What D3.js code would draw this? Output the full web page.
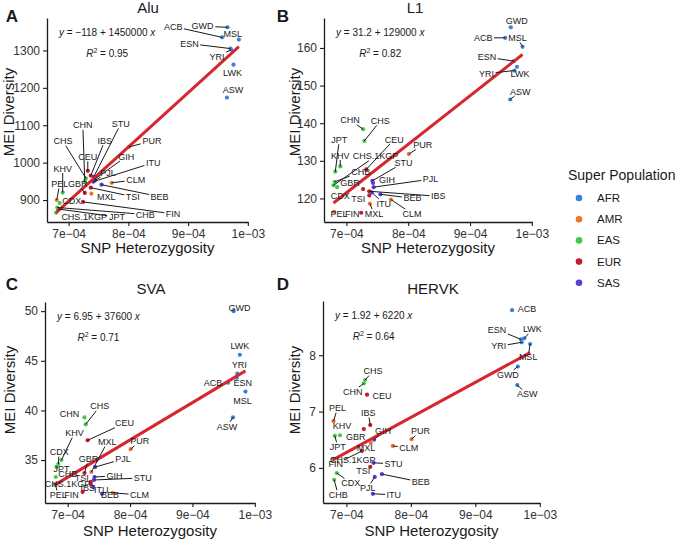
<!DOCTYPE html>
<html><head><meta charset="utf-8">
<script src="https://cdn.jsdelivr.net/npm/d3@7"></script>
<style>
body{margin:0;background:#fff}
svg{display:block}
text{font-family:"Liberation Sans",Arial,Helvetica,sans-serif}
</style>
</head><body>
<svg id="chart" width="682" height="544"></svg>
<script>
// ---------------- DATA ----------------
const populations = ["ACB","ASW","ESN","GWD","LWK","MSL","YRI",
  "CLM","MXL","PEL","PUR",
  "CDX","CHB","CHN","CHS","CHS.1KGP","JPT","KHV",
  "CEU","FIN","GBR","IBS","TSI",
  "BEB","GIH","ITU","PJL","STU"];
const superPopulation = ["AFR","AFR","AFR","AFR","AFR","AFR","AFR",
  "AMR","AMR","AMR","AMR",
  "EAS","EAS","EAS","EAS","EAS","EAS","EAS",
  "EUR","EUR","EUR","EUR","EUR",
  "SAS","SAS","SAS","SAS","SAS"];
const snpHeterozygosity = [9.57e-4,9.65e-4,9.71e-4,9.66e-4,9.76e-4,9.85e-4,9.72e-4,
  7.72e-4,7.38e-4,6.80e-4,8.01e-4,
  6.85e-4,6.81e-4,7.27e-4,7.29e-4,6.79e-4,6.82e-4,6.90e-4,
  7.32e-4,7.24e-4,7.27e-4,7.37e-4,7.37e-4,
  7.55e-4,7.43e-4,7.41e-4,7.44e-4,7.42e-4];
const aluDiversity = [1335,1174,1305,1362,1262,1329,1302,
  946,917,900,1042,
  892,880,950,958,866,876,920,
  978,895,919,965,933,
  941,955,949,952,962];
const l1Diversity = [162.7,146.3,156.5,165.5,155.0,160.3,154.0,
  119.7,118.6,116.4,131.8,
  123.0,124.4,138.4,135.3,123.5,127.1,128.5,
  127.7,116.2,122.5,121.9,120.8,
  121.1,124.1,121.6,123.0,124.7];
const svaDiversity = [42.8,39.3,43.3,50.0,45.6,41.9,43.7,
  31.7,33.8,32.6,36.1,
  34.6,33.3,39.3,38.6,32.5,34.3,35.0,
  37.0,31.8,33.7,32.6,32.8,
  31.6,33.3,32.3,34.3,33.0];
const hervkDiversity = [8.80,7.47,8.28,7.80,8.30,8.20,8.23,
  6.39,6.44,6.83,6.51,
  5.91,5.79,7.50,7.56,6.16,6.57,6.58,
  7.30,6.30,6.69,6.76,6.02,
  5.89,6.50,5.54,5.84,6.09];

const meiTypes = ["Alu","L1","SVA","HERVK"];
const panelLetters = ["A","B","C","D"];
const intercepts = [-118, 31.2, 6.95, 1.92];
const slopes = [1450000, 129000, 37600, 6220];
const interceptText = ["\u2212118","31.2","6.95","1.92"];
const slopeText = ["1450000","129000","37600","6220"];
const r2Text = ["0.95","0.82","0.71","0.64"];

const xTicks = [7e-4, 8e-4, 9e-4, 1e-3];
const xTickLabels = ["7e\u221204","8e\u221204","9e\u221204","1e\u221203"];
const aluTicks = [900,1000,1100,1200,1300];
const l1Ticks = [120,130,140,150,160];
const svaTicks = [35,40,45,50];
const hervkTicks = [6,7,8];

const superPopulations = ["AFR","AMR","EAS","EUR","SAS"];
const superPopColors = ["#3B81D6","#F0722F","#45C84C","#C51B2B","#5A3DDA"];

// label offsets (pixels from point to label centre) -- layout only
const labelOffsetsAlu = [[-49,-11],[6,-8],[-41,-5],[-25,-1],[-1,8],[-6,-6],[-14,7],
  [24,-3],[15,3],[3,-16],[23,-6],
  [12,-2],[88,7],[-2,-56],[-23,-37],[28,4],[59,8],[0,-24],
  [0,-14],[90,12],[-7,-9],[14,-35],[42,9],
  [58,12],[32,-23],[60,-19],[13,-8],[27,-53]];
const labelOffsetsL1 = [[-22,0],[10,-8],[-27,-4],[6,-6],[3,7],[-5,-9],[-28,3],
  [21,14],[4,10],[5,2],[14,-9],
  [3,9],[26,-10],[-13,-9],[16,-20],[42,-29],[4,-32],[0,-11],
  [28,-30],[-9,1],[-13,-6],[69,5],[-11,3],
  [32,4],[14,-3],[12,11],[57,-8],[31,-18]];
const labelOffsetsSVA = [[-15,0],[-6,9],[6,5],[6,-3],[0,-9],[-3,9],[2,-9],
  [27,2],[16,-30],[3,11],[9,-8],
  [1,-12],[12,-3],[-15,-4],[14,-18],[13,-1],[5,2],[13,-27],
  [37,-17],[-11,3],[4,-14],[-3,4],[-9,-4],
  [8,1],[20,-1],[8,3],[28,-8],[49,-2]];
const labelOffsetsHERVK = [[15,-1],[10,9],[-24,-10],[-10,8],[8,-9],[-2,13],[-23,4],
  [16,2],[-5,5],[4,-13],[9,-8],
  [14,10],[4,15],[-11,8],[8,-9],[20,1],[3,11],[2,-9],
  [15,1],[-26,13],[-8,8],[-2,-12],[-7,4],
  [39,8],[9,-9],[21,1],[-7,11],[20,1]];

// ---------------- LAYOUT ----------------
const panelLayout = [
  {x0:47,  x1:248, y0:18,  y1:222, titleX:148, letterX:12,  letterY:22,  titleY:13,  ytitleX:14,  ytitleY:112, xtitleY:253},
  {x0:324, x1:532, y0:18,  y1:222, titleX:415, letterX:283, letterY:22,  titleY:13,  ytitleX:300, ytitleY:112, xtitleY:253},
  {x0:45,  x1:255, y0:302, y1:503, titleX:151, letterX:12,  letterY:290, titleY:294, ytitleX:15,  ytitleY:390, xtitleY:536},
  {x0:323, x1:540, y0:301, y1:503, titleX:433, letterX:283, letterY:290, titleY:294, ytitleX:300, ytitleY:390, xtitleY:536}
];
const panelValues = [aluDiversity, l1Diversity, svaDiversity, hervkDiversity];
const panelTicks = [aluTicks, l1Ticks, svaTicks, hervkTicks];
const panelOffsets = [labelOffsetsAlu, labelOffsetsL1, labelOffsetsSVA, labelOffsetsHERVK];

const color = d3.scaleOrdinal().domain(superPopulations).range(superPopColors);
const svg = d3.select("#chart");
const ink = "#1a1a1a";

function expand(ext){ const r = ext[1]-ext[0]; return [ext[0]-0.05*r, ext[1]+0.05*r]; }

panelLayout.forEach((L, p) => {
  const vals = panelValues[p];
  const x = d3.scaleLinear().domain(expand(d3.extent(snpHeterozygosity))).range([L.x0, L.x1]);
  const y = d3.scaleLinear().domain(expand(d3.extent(vals))).range([L.y1, L.y0]);
  const g = svg.append("g");

  // axes
  const xAxis = d3.axisBottom(x).tickValues(xTicks).tickFormat((d,i)=>xTickLabels[i])
      .tickSizeInner(4).tickSizeOuter(0).tickPadding(3);
  const gx = g.append("g").attr("transform", `translate(0,${L.y1})`).call(xAxis);
  const yAxis = d3.axisLeft(y).tickValues(panelTicks[p]).tickFormat(d3.format("d"))
      .tickSizeInner(4).tickSizeOuter(0).tickPadding(3);
  const gy = g.append("g").attr("transform", `translate(${L.x0},0)`).call(yAxis);
  [gx, gy].forEach(a => {
    a.select(".domain").attr("stroke", ink).attr("stroke-width", 1.3);
    a.selectAll(".tick line").attr("stroke", ink).attr("stroke-width", 1.1);
    a.selectAll(".tick text").attr("fill", "#333").style("font-size", "12px")
      .style("font-family", '"Liberation Sans",Arial,sans-serif');
  });

  // points
  g.append("g").selectAll("circle").data(populations).join("circle")
    .attr("cx", (d,i) => x(snpHeterozygosity[i]))
    .attr("cy", (d,i) => y(vals[i]))
    .attr("r", 2.1)
    .attr("fill", (d,i) => color(superPopulation[i]));

  // regression line
  const xr = d3.extent(snpHeterozygosity);
  g.append("path")
    .datum(xr)
    .attr("d", d3.line().x(d => x(d)).y(d => y(intercepts[p] + slopes[p]*d)))
    .attr("stroke", "#D6262E").attr("stroke-width", 3).attr("fill", "none");

  // labels + segments
  const offs = panelOffsets[p];
  const segG = g.append("g");
  const labG = g.append("g");
  populations.forEach((name, i) => {
    const px = x(snpHeterozygosity[i]), py = y(vals[i]);
    const lx = px + offs[i][0], ly = py + offs[i][1];
    const t = labG.append("text").attr("x", lx).attr("y", ly).attr("dy", "0.35em")
      .attr("text-anchor", "middle").style("font-size", "9px").attr("fill", ink).text(name);
    const bb = t.node().getBBox();
    const hw = bb.width/2 + 1.5, hh = bb.height/2 - 0.5;
    const dx = px - lx, dy = py - ly;
    const tEdge = Math.min(dx === 0 ? Infinity : hw/Math.abs(dx), dy === 0 ? Infinity : hh/Math.abs(dy));
    const len = Math.hypot(dx, dy) * (1 - tEdge);
    if (tEdge < 1 && len > 5) {
      segG.append("line")
        .attr("x1", lx + tEdge*dx).attr("y1", ly + tEdge*dy)
        .attr("x2", px).attr("y2", py)
        .attr("stroke", ink).attr("stroke-width", 1);
    }
  });

  // equation text
  const eq = g.append("text").attr("x", L.x0 + 12).attr("y", L.y0 + 18)
    .style("font-size", "10px").attr("fill", ink);
  eq.append("tspan").style("font-style", "italic").text("y");
  eq.append("tspan").text(` = ${interceptText[p]} + ${slopeText[p]} `);
  eq.append("tspan").style("font-style", "italic").text("x");
  const eqW = eq.node().getComputedTextLength();
  const r2 = g.append("text").attr("x", L.x0 + 12 + eqW/2).attr("y", L.y0 + 39)
    .attr("text-anchor", "middle").style("font-size", "10px").attr("fill", ink);
  r2.append("tspan").style("font-style", "italic").text("R");
  r2.append("tspan").attr("dy", -4).style("font-size", "7px").text("2");
  r2.append("tspan").attr("dy", 4).text(` = ${r2Text[p]}`);

  // titles
  svg.append("text").attr("x", L.titleX).attr("y", L.titleY).attr("text-anchor", "middle")
    .style("font-size", "15px").attr("fill", ink).text(meiTypes[p]);
  svg.append("text").attr("x", L.letterX).attr("y", L.letterY).attr("text-anchor", "middle")
    .style("font-size", "17px").style("font-weight", "bold").attr("fill", ink).text(panelLetters[p]);
  svg.append("text").attr("transform", `translate(${L.ytitleX},${L.ytitleY}) rotate(-90)`)
    .attr("text-anchor", "middle").style("font-size", "15px").attr("fill", ink).text("MEI Diversity");
  svg.append("text").attr("x", (L.x0 + L.x1)/2).attr("y", L.xtitleY).attr("text-anchor", "middle")
    .style("font-size", "15px").attr("fill", ink).text("SNP Heterozygosity");
});

// legend
const lg = svg.append("g").attr("transform", "translate(568,0)");
lg.append("text").attr("x", 0).attr("y", 180).style("font-size", "14px").attr("fill", ink).text("Super Population");
superPopulations.forEach((s, i) => {
  const yy = 198 + i*21.2;
  lg.append("circle").attr("cx", 11).attr("cy", yy).attr("r", 3.3).attr("fill", color(s));
  lg.append("text").attr("x", 29).attr("y", yy).attr("dy", "0.35em").style("font-size", "11.5px").attr("fill", ink).text(s);
});
</script>
</body></html>
